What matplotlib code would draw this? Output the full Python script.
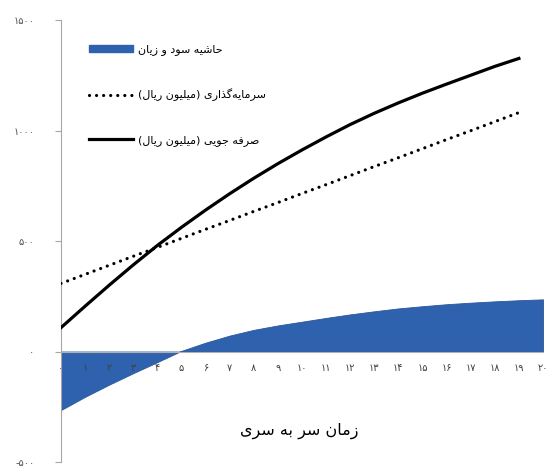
import matplotlib
matplotlib.use("Agg")
import matplotlib.pyplot as plt
from matplotlib.patches import Patch
from matplotlib.lines import Line2D

# داده‌ها (خوانده شده از نمودار)
years = list(range(21))
profit = [-265, -205, -150, -98, -48, 3, 40, 72, 98, 118, 135,
          152, 168, 182, 195, 205, 214, 221, 227, 232, 236]
line_years = list(range(20))
investment = [308, 349, 390, 431, 471, 512, 553, 593, 634, 674,
              715, 755, 796, 837, 877, 918, 959, 999, 1040, 1081]
savings = [108, 205, 300, 392, 480, 562, 640, 714, 784, 850,
           912, 971, 1027, 1078, 1125, 1169, 1210, 1250, 1290, 1326]
y_ticks = [-500, 0, 500, 1000, 1500]

label_profit = "حاشیه سود و زیان"
label_invest = "سرمایه‌گذاری (میلیون ریال)"
label_save = "صرفه جویی (میلیون ریال)"
x_title = "زمان سر به سری"

# شکل‌های حروف: جدا، پایانی، آغازی، میانی
FORMS = {
    "ا": ("\uFE8D", "\uFE8E"),
    "ب": ("\uFE8F", "\uFE90", "\uFE91", "\uFE92"),
    "ج": ("\uFE9D", "\uFE9E", "\uFE9F", "\uFEA0"),
    "ح": ("\uFEA1", "\uFEA2", "\uFEA3", "\uFEA4"),
    "د": ("\uFEA9", "\uFEAA"),
    "ذ": ("\uFEAB", "\uFEAC"),
    "ر": ("\uFEAD", "\uFEAE"),
    "ز": ("\uFEAF", "\uFEB0"),
    "س": ("\uFEB1", "\uFEB2", "\uFEB3", "\uFEB4"),
    "ش": ("\uFEB5", "\uFEB6", "\uFEB7", "\uFEB8"),
    "ص": ("\uFEB9", "\uFEBA", "\uFEBB", "\uFEBC"),
    "ف": ("\uFED1", "\uFED2", "\uFED3", "\uFED4"),
    "ل": ("\uFEDD", "\uFEDE", "\uFEDF", "\uFEE0"),
    "م": ("\uFEE1", "\uFEE2", "\uFEE3", "\uFEE4"),
    "ن": ("\uFEE5", "\uFEE6", "\uFEE7", "\uFEE8"),
    "ه": ("\uFEE9", "\uFEEA", "\uFEEB", "\uFEEC"),
    "و": ("\uFEED", "\uFEEE"),
    "ی": ("\uFBFC", "\uFBFD", "\uFBFE", "\uFBFF"),
    "گ": ("\uFB92", "\uFB93", "\uFB94", "\uFB95"),
}
MIRROR = {"(": ")", ")": "("}


def fa(text):
    # شکل‌دهی ساده حروف و برگرداندن ترتیب برای نمایش راست به چپ
    out = []
    for k, c in enumerate(text):
        if c not in FORMS:
            if c != "\u200c":
                out.append(MIRROR.get(c, c))
            continue
        prev = text[k - 1] if k > 0 else ""
        nxt = text[k + 1] if k + 1 < len(text) else ""
        jp = prev in FORMS and len(FORMS[prev]) == 4
        jn = nxt in FORMS and len(FORMS[c]) == 4
        f = FORMS[c]
        if jp and jn:
            out.append(f[3])
        elif jp:
            out.append(f[1])
        elif jn:
            out.append(f[2])
        else:
            out.append(f[0])
    return "".join(reversed(out))


def fa_num(n):
    return str(n).translate(str.maketrans("0123456789", "۰۱۲۳۴۵۶۷۸۹"))


plt.rcParams['font.family'] = ['DejaVu Sans']

fig = plt.figure(figsize=(5.49, 4.68), dpi=100)
ax = fig.add_axes([61 / 549, 6 / 468, 482 / 549, 442 / 468])

blue = "#2F62AE"
ax.fill_between(years, profit, 0, color=blue, linewidth=0.6, edgecolor="#2A5799", zorder=1)
ax.plot(line_years, investment, color="black", linewidth=2.3,
        linestyle=(0, (0.01, 2.2)), dash_capstyle="round", zorder=3)
ax.plot(line_years, savings, color="black", linewidth=2.3, zorder=3)

ax.set_xlim(0, 20)
ax.set_ylim(-500, 1500)

ax.spines['top'].set_visible(False)
ax.spines['right'].set_visible(False)
ax.spines['bottom'].set_position(('data', 0))
ax.spines['bottom'].set_color("#B0B0B0")
ax.spines['left'].set_color("#A6A6A6")
ax.spines['bottom'].set_zorder(4)

ax.set_xticks(years)
ax.set_xticklabels([fa_num(y) for y in years])
ax.set_yticks(y_ticks)
ax.set_yticklabels([fa_num(v) for v in y_ticks])
ax.tick_params(axis='x', length=0, pad=8, labelsize=7, labelcolor="#404040")
ax.tick_params(axis='y', length=4, width=0.8, color="#A6A6A6", pad=15,
               labelsize=7, labelcolor="#505050")

fig.text(0.545, 0.08, fa(x_title), ha="center", va="center", fontsize=11.5,
         color="black")

handles = [
    Patch(facecolor=blue, edgecolor=blue),
    Line2D([], [], color="black", linewidth=2.3, linestyle=(0, (0.01, 2.2)),
           dash_capstyle="round"),
    Line2D([], [], color="black", linewidth=2.3),
]
labels = [fa(label_profit), fa(label_invest), fa(label_save)]
ax.legend(handles, labels, loc="upper left", bbox_to_anchor=(0.048, 0.955),
          frameon=False, fontsize=8, labelspacing=3.0, handlelength=4.0,
          handletextpad=0.45, borderaxespad=0)

fig.savefig("out.png", dpi=100)
